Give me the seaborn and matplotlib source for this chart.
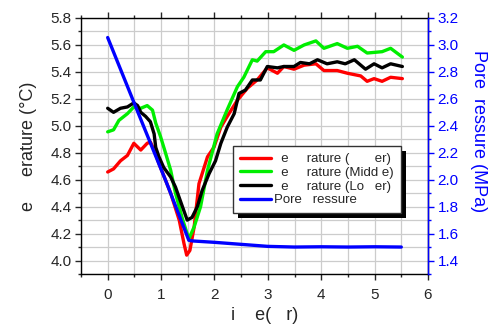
import numpy as np
import pandas as pd
import seaborn as sns
import matplotlib
matplotlib.use("Agg")
import matplotlib.pyplot as plt
from matplotlib.patches import Rectangle
from matplotlib.ticker import MultipleLocator

# Elapsed time (hr) and temperature readings for the three sensors
t_upper = [0, 0.11, 0.24, 0.37, 0.49, 0.62, 0.74, 0.80, 0.87, 0.96, 1.18, 1.34, 1.43, 1.48, 1.54,
           1.62, 1.71, 1.87, 1.99, 2.12, 2.24, 2.43, 2.62, 2.80, 2.99, 3.18, 3.30, 3.49, 3.68,
           3.90, 4.05, 4.30, 4.49, 4.74, 4.86, 4.99, 5.14, 5.30, 5.52]
temp_upper = [4.657, 4.68, 4.74, 4.78, 4.87, 4.82, 4.87, 4.88, 4.82, 4.72, 4.50, 4.30, 4.125, 4.04, 4.075,
              4.25, 4.57, 4.77, 4.84, 4.99, 5.07, 5.19, 5.28, 5.34, 5.43, 5.39, 5.44, 5.42, 5.45,
              5.46, 5.41, 5.41, 5.39, 5.37, 5.33, 5.35, 5.33, 5.36, 5.35]

t_middle = [0, 0.11, 0.21, 0.37, 0.49, 0.62, 0.74, 0.84, 0.90, 0.99, 1.09, 1.18, 1.27, 1.40, 1.52,
            1.62, 1.74, 1.87, 2.05, 2.24, 2.43, 2.55, 2.71, 2.80, 2.96, 3.11, 3.30, 3.49, 3.68,
            3.90, 4.05, 4.30, 4.49, 4.68, 4.86, 5.14, 5.30, 5.52]
temp_middle = [4.955, 4.97, 5.04, 5.09, 5.14, 5.13, 5.15, 5.116, 5.02, 4.92, 4.79, 4.67, 4.50, 4.31, 4.16,
               4.25, 4.40, 4.67, 4.94, 5.12, 5.29, 5.36, 5.49, 5.48, 5.55, 5.55, 5.60, 5.56, 5.60,
               5.63, 5.575, 5.61, 5.575, 5.59, 5.54, 5.55, 5.575, 5.51]

t_lower = [0, 0.11, 0.24, 0.37, 0.49, 0.56, 0.62, 0.71, 0.80, 0.87, 0.90, 0.96, 1.05, 1.18, 1.27,
           1.40, 1.49, 1.58, 1.68, 1.77, 1.90, 2.02, 2.12, 2.24, 2.37, 2.46, 2.58, 2.71, 2.86,
           2.99, 3.18, 3.30, 3.49, 3.61, 3.78, 3.93, 4.11, 4.30, 4.45, 4.62, 4.83, 4.99, 5.14,
           5.30, 5.52]
temp_lower = [5.13, 5.10, 5.13, 5.14, 5.17, 5.15, 5.10, 5.07, 5.03, 4.94, 4.84, 4.77, 4.69, 4.62, 4.545,
              4.40, 4.30, 4.32, 4.40, 4.52, 4.645, 4.74, 4.87, 4.99, 5.09, 5.24, 5.265, 5.34, 5.34,
              5.44, 5.43, 5.44, 5.44, 5.47, 5.46, 5.49, 5.46, 5.475, 5.46, 5.49, 5.42, 5.46, 5.43,
              5.46, 5.44]

# Pore pressure (MPa)
t_pressure = [0, 0.49, 1.09, 1.52, 1.6, 2.0, 2.5, 3.0, 3.5, 4.0, 4.5, 5.0, 5.5]
pore_pressure = [3.055, 2.575, 1.99, 1.55, 1.545, 1.535, 1.52, 1.505, 1.50, 1.502, 1.50, 1.502, 1.50]

label_upper = "  e     rature (       er)"
label_middle = "  e     rature (Midd e)"
label_lower = "  e     rature (Lo   er)"
label_pressure = "Pore   ressure"

sns.set_style("ticks")
plt.rcParams["font.family"] = ["Liberation Sans", "DejaVu Sans"]

fig = plt.figure(figsize=(4.92, 3.29), dpi=100)
ax = fig.add_axes([0.1646, 0.1672, 0.7053, 0.7781])
ax2 = ax.twinx()

lw = 2.4
sns.lineplot(x=t_upper, y=temp_upper, ax=ax, color="#ff0000", lw=lw, label=label_upper, legend=False)
sns.lineplot(x=t_middle, y=temp_middle, ax=ax, color="#00ee00", lw=lw, label=label_middle, legend=False)
sns.lineplot(x=t_lower, y=temp_lower, ax=ax, color="#000000", lw=lw, label=label_lower, legend=False)
sns.lineplot(x=t_pressure, y=pore_pressure, ax=ax2, color="#0000ff", lw=lw, label=label_pressure, legend=False)

ax.set_xlim(-0.5, 6)
ax.set_ylim(3.9, 5.8)
ax2.set_ylim(1.3, 3.2)

ax.xaxis.set_major_locator(MultipleLocator(1))
ax.xaxis.set_minor_locator(MultipleLocator(0.5))
ax.yaxis.set_major_locator(MultipleLocator(0.2))
ax.yaxis.set_minor_locator(MultipleLocator(0.1))
ax2.yaxis.set_major_locator(MultipleLocator(0.2))
ax2.yaxis.set_minor_locator(MultipleLocator(0.1))

ax.grid(True, which="both", color="#cccccc", lw=0.9)
ax.set_axisbelow(True)

ax.tick_params(axis="both", which="major", labelsize=11, length=4, width=1, direction="out")
ax.tick_params(axis="both", which="minor", length=2.5, width=1, direction="out")
ax.tick_params(axis="x", which="both", top=True, pad=6)
ax.tick_params(axis="y", which="major", pad=3)
ax2.tick_params(axis="y", which="major", colors="#0000ff", labelsize=11, length=4, width=1, pad=3)
ax2.tick_params(axis="y", which="minor", colors="#0000ff", length=2.5, width=1)

for s in ax.spines.values():
    s.set_linewidth(1.0)
    s.set_color("black")
ax2.spines["right"].set_color("#0000ff")
ax2.spines["right"].set_linewidth(1.0)
for s in ["left", "top", "bottom"]:
    ax2.spines[s].set_visible(False)

ax.set_xlabel("i    e(   r)", fontsize=13)
ax.xaxis.set_label_coords(0.53, -0.128)
ax.set_ylabel("e     erature (°C)", fontsize=13)
ax.yaxis.set_label_coords(-0.127, 0.5)
ax2.set_ylabel("Pore  ressure (MPa)", fontsize=13, color="#0000ff", rotation=270, va="center")
ax2.yaxis.set_label_coords(1.145, 0.56)

handles = ax.get_lines()[:3] + ax2.get_lines()[:1]
labels = [label_upper, label_middle, label_lower, label_pressure]
leg = ax2.legend(handles, labels, loc="upper left", bbox_to_anchor=(0.438, 0.5),
                 fontsize=9.5, frameon=True, fancybox=False, framealpha=1,
                 edgecolor="#333333", handlelength=2.3, handletextpad=0.25,
                 labelspacing=0.1, borderpad=0.55, borderaxespad=0)
leg.get_frame().set_linewidth(1.0)
leg.set_zorder(10)

# Solid drop shadow behind the legend box
fig.canvas.draw()
bb = leg.get_window_extent()
shadow = Rectangle((bb.x0 + 5, bb.y0 - 5), bb.width, bb.height, transform=None,
                   facecolor="black", edgecolor="none", zorder=9)
ax2.add_artist(shadow)

fig.savefig("out.png", dpi=100)
